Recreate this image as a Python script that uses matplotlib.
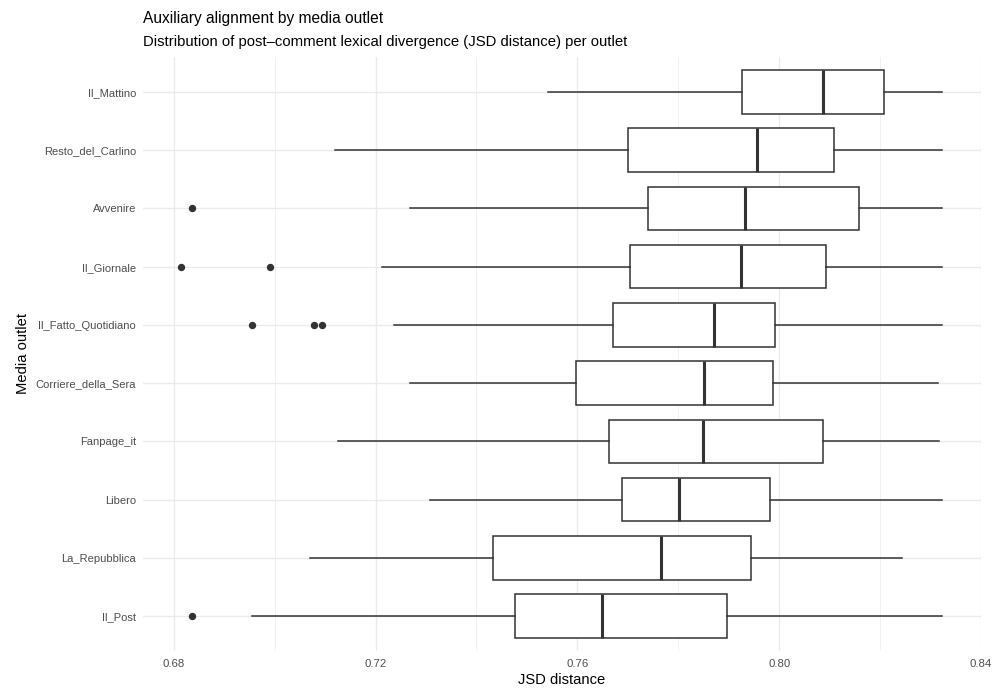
import matplotlib.pyplot as plt
import matplotlib.ticker as mticker

plt.rcParams['font.family'] = ['Liberation Sans', 'DejaVu Sans']

# outlets, listed top to bottom as in the chart
outlets = ["Il_Mattino", "Resto_del_Carlino", "Avvenire", "Il_Giornale",
           "Il_Fatto_Quotidiano", "Corriere_della_Sera", "Fanpage_it",
           "Libero", "La_Repubblica", "Il_Post"]

# five-number summaries (JSD distance)
whisker_low = [0.7541, 0.7119, 0.7268, 0.7213, 0.7237, 0.7269, 0.7125, 0.7308, 0.7070, 0.6955]
q1 = [0.7927, 0.7701, 0.7739, 0.7704, 0.7671, 0.7597, 0.7663, 0.7688, 0.7432, 0.7477]
median = [0.8087, 0.7956, 0.7932, 0.7924, 0.7870, 0.7850, 0.7849, 0.7801, 0.7766, 0.7648]
q3 = [0.8208, 0.8108, 0.8158, 0.8092, 0.7992, 0.7987, 0.8086, 0.7981, 0.7945, 0.7896]
whisker_high = [0.8323, 0.8323, 0.8323, 0.8323, 0.8323, 0.8314, 0.8317, 0.8323, 0.8244, 0.8323]
outliers = [[], [], [0.6836], [0.6814, 0.6990], [0.6956, 0.7078, 0.7093],
            [], [], [], [], [0.6836]]

xticks = [0.68, 0.72, 0.76, 0.80, 0.84]

# build stats for bxp
stats = []
for i in range(len(outlets)):
    stats.append({
        "label": outlets[i],
        "whislo": whisker_low[i],
        "q1": q1[i],
        "med": median[i],
        "q3": q3[i],
        "whishi": whisker_high[i],
        "fliers": outliers[i],
    })

positions = list(range(len(outlets), 0, -1))

fig = plt.figure(figsize=(9.95, 6.92), dpi=100)
ax = fig.add_axes([143 / 995, 1 - 651 / 692, (981 - 143) / 995, (651 - 57) / 692])

edge = "#333333"
ax.bxp(
    stats,
    positions=positions,
    vert=False,
    widths=0.75,
    patch_artist=True,
    showcaps=False,
    boxprops=dict(facecolor="white", edgecolor=edge, linewidth=1.1),
    whiskerprops=dict(color=edge, linewidth=1.1),
    medianprops=dict(color=edge, linewidth=2.2),
    flierprops=dict(marker="o", markerfacecolor=edge, markeredgecolor=edge,
                    markersize=4.3, linestyle="none"),
    zorder=3,
)

ax.set_xlim(0.6739, 0.84)
ax.set_ylim(0.4, len(outlets) + 0.6)

ax.set_xticks(xticks)
ax.xaxis.set_major_formatter(mticker.FormatStrFormatter("%.2f"))
ax.xaxis.set_minor_locator(mticker.FixedLocator([0.70, 0.74, 0.78, 0.82]))
ax.set_yticks(positions)
ax.set_yticklabels(outlets)

ax.grid(True, which="major", color="#EBEBEB", linewidth=1.0, zorder=0)
ax.grid(True, which="minor", axis="x", color="#EBEBEB", linewidth=0.5, zorder=0)
ax.set_axisbelow(True)

for s in ax.spines.values():
    s.set_visible(False)
ax.tick_params(axis="x", which="both", length=0, labelsize=8.2, labelcolor="#4D4D4D", pad=6)
ax.tick_params(axis="y", which="both", length=0, labelsize=8.0, labelcolor="#4D4D4D", pad=5)

ax.set_xlabel("JSD distance", fontsize=10.6, color="black", labelpad=3)
ax.set_ylabel("Media outlet", fontsize=10.6, color="black", labelpad=4)

fig.text(143 / 995, 1 - 19 / 692, "Auxiliary alignment by media outlet",
         fontsize=11.2, va="center", ha="left")
fig.text(143 / 995, 1 - 42 / 692,
         "Distribution of post\u2013comment lexical divergence (JSD distance) per outlet",
         fontsize=10.7, va="center", ha="left")

fig.savefig("out.png", dpi=100, facecolor="white")
